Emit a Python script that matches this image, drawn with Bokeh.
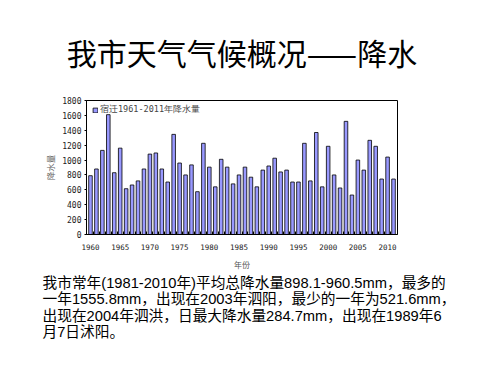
from bokeh.plotting import figure
from bokeh.models import Range1d, FixedTicker, Title, Legend, LegendItem
from bokeh.embed import file_html
from bokeh.resources import INLINE

years = list(range(1960, 2012))
rain = [790, 880, 1130, 1610, 830, 1160, 615, 665, 720, 880,
        1080, 1095, 880, 705, 1345, 960, 800, 935, 575, 1225,
        905, 640, 1010, 905, 680, 800, 905, 770, 640, 865,
        920, 1025, 840, 865, 705, 705, 1225, 720, 1370, 640,
        1185, 800, 625, 1520, 530, 1000, 865, 1265, 1185, 745,
        1040, 745]
year_ticks = list(range(1960, 2011, 5))
y_ticks = list(range(0, 1801, 200))

title_text = "我市天气气候概况——降水"
legend_text = "宿迁1961-2011年降水量"
y_label = "降水量"
x_label = "年份"
para_lines = [
    "我市常年(1981-2010年)平均总降水量898.1-960.5mm，最多的",
    "一年1555.8mm，出现在2003年泗阳，最少的一年为521.6mm，",
    "出现在2004年泗洪，日最大降水量284.7mm，出现在1989年6",
    "月7日沭阳。",
]

W, H = 500, 375
FL, FR, FT, FB = 86, 397, 100, 234

p = figure(width=W, height=H, output_backend="svg", toolbar_location=None,
           x_range=Range1d(1959.33, 2011.67), y_range=Range1d(0, 1800),
           min_border_left=FL, min_border_right=W - FR,
           min_border_top=FT, min_border_bottom=H - FB,
           background_fill_color="white", border_fill_color="white")
p.xgrid.visible = False
p.ygrid.visible = False
p.outline_line_color = "black"
p.outline_line_width = 1

r = p.vbar(x=years, top=rain, width=0.6, fill_color="#9999FF",
           line_color="black", line_width=0.8)

# axes
xa = p.xaxis[0]
xa.ticker = FixedTicker(ticks=year_ticks, minor_ticks=[y + 0.5 for y in years[:-1]])
xa.major_tick_in = 0
xa.major_tick_out = 0
xa.minor_tick_in = 3
xa.minor_tick_out = 0
xa.minor_tick_line_color = "black"
xa.axis_line_color = "black"
xa.major_label_text_font = "DejaVu Sans Mono"
xa.major_label_text_font_size = "7.5px"
xa.major_label_text_color = "#222222"
xa.major_label_standoff = 9
xa.axis_label = x_label
xa.axis_label_text_font = "Noto Sans CJK SC"
xa.axis_label_text_font_size = "8px"
xa.axis_label_text_font_style = "normal"
xa.axis_label_text_color = "#555555"
xa.axis_label_standoff = 6

ya = p.yaxis[0]
ya.ticker = FixedTicker(ticks=y_ticks)
ya.minor_tick_line_color = None
ya.major_tick_in = 0
ya.major_tick_out = 2
ya.axis_line_color = "black"
ya.major_label_text_font = "DejaVu Sans Mono"
ya.major_label_text_font_size = "8px"
ya.major_label_text_color = "#222222"
ya.major_label_standoff = 3
ya.axis_label = y_label
ya.axis_label_text_font = "Noto Sans CJK SC"
ya.axis_label_text_font_size = "8.5px"
ya.axis_label_text_font_style = "normal"
ya.axis_label_text_color = "#666666"
ya.axis_label_standoff = 3

legend = Legend(items=[LegendItem(label=legend_text, renderers=[r])],
                location=(6, 118), margin=0, padding=3,
                glyph_width=6, glyph_height=6, label_height=9,
                label_standoff=2, border_line_color=None,
                background_fill_alpha=0,
                label_text_font="DejaVu Sans Mono",
                label_text_font_size="8.5px", label_text_color="#444444")
p.add_layout(legend)

# main title above the frame
p.title.text = title_text
p.title.align = "center"
p.title.offset = 7
p.title.text_font = "Noto Sans CJK SC"
p.title.text_font_size = "30px"
p.title.text_font_style = "normal"
p.title.text_color = "black"
p.title.text_line_height = 0.8
p.title.standoff = 54

# paragraph below the axis
p.add_layout(Title(text="\n".join(para_lines), align="left", offset=42 - FL,
                   text_font="Liberation Sans, Noto Sans CJK SC",
                   text_font_size="14.7px", text_font_style="normal",
                   text_color="black", text_line_height=1.02, standoff=1),
             "below")

open("out.html", "w").write(file_html(p, INLINE))
